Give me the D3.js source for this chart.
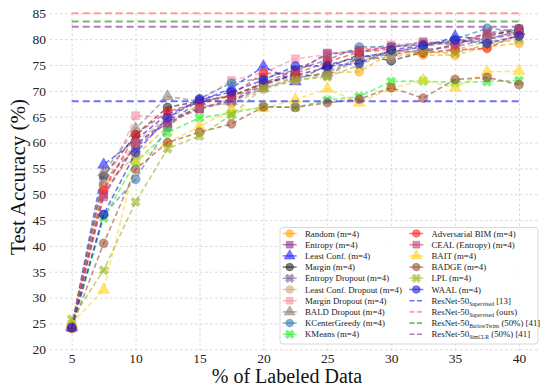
<!DOCTYPE html>
<html><head><meta charset="utf-8">
<script src="https://cdn.jsdelivr.net/npm/d3@7/dist/d3.min.js"></script>
<style>
html,body{margin:0;padding:0;background:#fff;}
svg{display:block;font-family:"Liberation Serif","Times New Roman",serif;}
</style></head>
<body>
<svg id="chart" width="540" height="392"></svg>
<script>
// ---- data ----
const xValues = [5, 7.5, 10, 12.5, 15, 17.5, 20, 22.5, 25, 27.5, 30, 32.5, 35, 37.5, 40];
const xTicks = [5, 10, 15, 20, 25, 30, 35, 40];
const yTicks = [20, 25, 30, 35, 40, 45, 50, 55, 60, 65, 70, 75, 80, 85];

const seriesNames = ["Random (m=4)", "Entropy (m=4)", "Least Conf. (m=4)", "Margin (m=4)",
  "Entropy Dropout (m=4)", "Least Conf. Dropout (m=4)", "Margin Dropout (m=4)", "BALD Dropout (m=4)",
  "KCenterGreedy (m=4)", "KMeans (m=4)", "Adversarial BIM (m=4)", "CEAL (Entropy) (m=4)",
  "BAIT (m=4)", "BADGE (m=4)", "LPL (m=4)", "WAAL (m=4)"];

const random        = [24.0, 51.5, 57.5, 63.0, 67.5, 69.0, 71.5, 72.5, 73.5, 73.7, 77.3, 76.9, 76.9, 78.5, 79.2];
const entropy       = [24.2, 50.0, 59.5, 64.5, 66.5, 68.0, 71.0, 73.5, 77.3, 77.5, 78.5, 79.0, 79.5, 81.0, 81.5];
const leastConf     = [24.2, 55.7, 60.5, 65.5, 68.0, 70.5, 74.7, 71.8, 75.0, 76.5, 77.5, 78.5, 80.5, 80.0, 81.5];
const margin        = [24.2, 53.5, 61.5, 66.8, 68.0, 69.0, 71.5, 73.0, 74.5, 77.0, 75.8, 77.5, 79.0, 80.5, 82.0];
const entropyDrop   = [24.3, 52.5, 59.0, 64.0, 66.8, 67.9, 71.5, 73.0, 73.0, 76.5, 77.0, 78.0, 78.5, 80.0, 81.0];
const leastConfDrop = [24.3, 52.0, 60.0, 65.0, 67.0, 67.5, 70.3, 72.0, 73.0, 76.0, 76.5, 77.5, 78.0, 79.5, 80.5];
const marginDrop    = [24.2, 50.5, 65.2, 65.0, 68.2, 72.0, 73.5, 76.2, 77.0, 78.0, 78.9, 79.2, 79.0, 80.5, 81.0];
const baldDrop      = [24.5, 54.2, 62.7, 68.9, 68.0, 68.0, 70.5, 72.5, 73.5, 76.5, 77.5, 78.5, 79.5, 80.0, 81.5];
const kCenter       = [24.3, 46.0, 52.9, 63.0, 68.5, 71.5, 72.5, 74.0, 76.0, 78.5, 78.5, 79.0, 80.0, 82.1, 81.5];
const kMeans        = [24.2, 45.4, 56.3, 61.9, 64.8, 65.7, 66.9, 66.8, 68.2, 68.9, 71.8, 71.9, 71.6, 71.8, 72.0];
const advBIM        = [24.2, 50.8, 61.5, 66.0, 67.8, 69.2, 73.4, 73.3, 75.6, 77.5, 78.0, 77.3, 77.9, 78.2, 81.0];
const ceal          = [24.2, 49.5, 59.8, 63.8, 66.5, 68.5, 71.5, 74.0, 77.0, 77.8, 78.5, 79.5, 79.0, 81.2, 82.0];
const bait          = [25.0, 31.5, 56.5, 60.0, 63.1, 66.3, 66.6, 68.3, 70.4, 67.7, 70.5, 72.1, 70.6, 73.7, 73.8];
const badge         = [24.2, 40.5, 54.8, 60.0, 62.0, 63.6, 66.9, 66.8, 67.7, 68.4, 70.6, 68.6, 72.2, 72.6, 71.2];
const lpl           = [25.8, 35.3, 48.5, 58.8, 61.3, 65.3, 70.6, 72.1, 72.7, 75.0, 77.6, 77.5, 77.3, 79.0, 80.0];
const waal          = [24.2, 46.1, 58.0, 64.8, 68.3, 69.8, 72.1, 74.8, 74.8, 75.3, 77.9, 78.8, 79.8, 79.2, 80.6];

const refNames = [["ResNet-50", "Supervised", " [13]"], ["ResNet-50", "Supervised", " (ours)"],
  ["ResNet-50", "BarlowTwins", " (50%) [41]"], ["ResNet-50", "SimCLR", " (50%) [41]"]];
const refValues = [68.0, 85.0, 83.4, 82.4];

// ---- styles ----
const seriesValues = [random, entropy, leastConf, margin, entropyDrop, leastConfDrop, marginDrop, baldDrop,
  kCenter, kMeans, advBIM, ceal, bait, badge, lpl, waal];
const seriesColors = ["#ffa500", "#8a2f86", "#1a1aff", "#202020", "#6a5a9a", "#cfa77a", "#f48aa4", "#8a7a70",
  "#2f78b0", "#22ee22", "#ff1a1a", "#b8406e", "#ffd21a", "#9a4a30", "#9ab41e", "#1a1ad8"];
const seriesShapes = ["circle", "square", "triangle", "circle", "x", "circle", "square", "triangle",
  "circle", "x", "circle", "square", "triangle", "circle", "x", "circle"];
const refColors = ["#3333ff", "#ff6666", "#33a033", "#a040b0"];
const refOpacity = [0.7, 0.6, 0.7, 0.7];

const svg = d3.select("#chart");
const plotLeft = 50, plotRight = 540, plotTop = 13, plotBottom = 351;
const x = d3.scaleLinear().domain([5, 40]).range([71.7, 519]);
const y = d3.scaleLinear().domain([20, 85]).range([349.3, 13.3]);

// grid + axes
const gy = svg.append("g").attr("transform", `translate(${plotLeft},0)`)
  .call(d3.axisLeft(y).tickValues(yTicks).tickSize(-(plotRight - plotLeft)).tickPadding(4).tickFormat(d3.format("d")));
const gx = svg.append("g").attr("transform", `translate(0,${plotBottom})`)
  .call(d3.axisBottom(x).tickValues(xTicks).tickSize(-(plotBottom - plotTop)).tickPadding(2).tickFormat(d3.format("d")));
[gx, gy].forEach(g => {
  g.select(".domain").remove();
  g.selectAll(".tick line").attr("stroke", "#d4d4d4").attr("stroke-width", 0.9).attr("stroke-dasharray", "2.5,2.5");
  g.selectAll(".tick text").attr("fill", "#222").style("font-size", "13.5px")
    .style("font-family", '"Liberation Serif","Times New Roman",serif');
});

// axis titles
svg.append("text").attr("x", 287).attr("y", 383).attr("text-anchor", "middle")
  .style("font-size", "20px").attr("fill", "#111").text("% of Labeled Data");
svg.append("text").attr("transform", "translate(25,177) rotate(-90)").attr("text-anchor", "middle")
  .style("font-size", "21px").attr("fill", "#111").text("Test Accuracy (%)");

function symbolPath(shape, size) {
  const t = {circle: d3.symbolCircle, square: d3.symbolSquare, triangle: d3.symbolTriangle, x: d3.symbolCross}[shape];
  return d3.symbol().type(t).size(size)();
}

const line = d3.line().x((d, i) => x(xValues[i])).y(d => y(d));

// series
seriesValues.forEach((vals, si) => {
  const c = seriesColors[si];
  const g = svg.append("g");
  g.append("path").datum(vals).attr("d", line).attr("fill", "none").attr("stroke", c)
    .attr("stroke-width", 1.6).attr("stroke-dasharray", "5,3").attr("stroke-opacity", 0.6);
  const shape = seriesShapes[si];
  g.selectAll("path.m").data(vals).enter().append("path").attr("class", "m")
    .attr("d", symbolPath(shape, shape === "triangle" ? 60 : (shape === "x" ? 54 : 62)))
    .attr("transform", (d, i) => `translate(${x(xValues[i])},${y(d)})` + (shape === "x" ? " rotate(45)" : ""))
    .attr("fill", c).attr("fill-opacity", 0.58).attr("stroke", c).attr("stroke-opacity", 0.5).attr("stroke-width", 0.8);
});

// reference lines
refValues.forEach((v, i) => {
  svg.append("line").attr("x1", x(5)).attr("x2", x(40)).attr("y1", y(v)).attr("y2", y(v))
    .attr("stroke", refColors[i]).attr("stroke-opacity", refOpacity[i]).attr("stroke-width", 2)
    .attr("stroke-dasharray", "7,4");
});

// legend
const lg = svg.append("g");
lg.append("rect").attr("x", 280).attr("y", 227.5).attr("width", 258).attr("height", 116.5).attr("rx", 3)
  .attr("fill", "#fff").attr("fill-opacity", 0.85).attr("stroke", "#cfcfcf").attr("stroke-width", 0.8);
const rowY = i => 233.5 + i * 11.2;
seriesNames.forEach((name, si) => {
  const col = si < 10 ? 0 : 1;
  const row = si < 10 ? si : si - 10;
  const cx = col === 0 ? 289.7 : 416.3;
  const tx = col === 0 ? 305 : 431.5;
  const yy = rowY(row);
  const c = seriesColors[si];
  lg.append("line").attr("x1", cx - 7).attr("x2", cx + 7).attr("y1", yy).attr("y2", yy)
    .attr("stroke", c).attr("stroke-opacity", 0.6).attr("stroke-width", 1.5);
  const shape = seriesShapes[si];
  lg.append("path").attr("d", symbolPath(shape, shape === "triangle" ? 50 : 46))
    .attr("transform", `translate(${cx},${yy})` + (shape === "x" ? " rotate(45)" : ""))
    .attr("fill", c).attr("fill-opacity", 0.58).attr("stroke", c).attr("stroke-opacity", 0.5).attr("stroke-width", 0.8);
  lg.append("text").attr("x", tx).attr("y", yy + 3).style("font-size", "8.8px").attr("fill", "#222").text(name);
});
refNames.forEach((parts, i) => {
  const yy = rowY(6 + i);
  lg.append("line").attr("x1", 409.5).attr("x2", 424).attr("y1", yy).attr("y2", yy)
    .attr("stroke", refColors[i]).attr("stroke-opacity", refOpacity[i]).attr("stroke-width", 1.6)
    .attr("stroke-dasharray", "5,2.5");
  const t = lg.append("text").attr("x", 431.5).attr("y", yy + 3).style("font-size", "8.8px").attr("fill", "#222");
  t.append("tspan").text(parts[0]);
  t.append("tspan").attr("dy", 2).style("font-size", "5.6px").text(parts[1]);
  t.append("tspan").attr("dy", -2).text(parts[2]);
});
</script>
</body></html>
